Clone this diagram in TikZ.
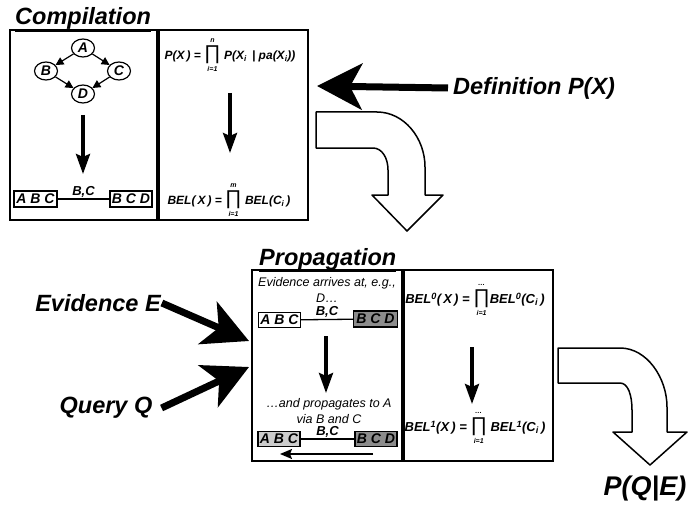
\documentclass[tikz,border=0pt]{standalone}
\usepackage{fontspec}
\setmainfont{Liberation Sans}
\usetikzlibrary{arrows.meta,shapes.geometric}

% n-ary product with small limits above and below
\newcommand{\limprod}[2]{$\mathop{\hbox{\fontsize{20}{20}\selectfont\upshape\mdseries ∏}}\limits^{\hbox{\raise2pt\hbox{\fontsize{7}{7}\selectfont #1}}}_{\hbox{\lower1.5pt\hbox{\fontsize{7}{7}\selectfont #2}}}$}
\newcommand{\sub}[1]{\textsubscript{#1}}
\newcommand{\sups}[1]{\textsuperscript{#1}}

\tikzset{
  frame/.style={draw, line width=2pt, inner sep=0pt},
  clq/.style={draw, line width=1.3pt, inner sep=0pt, minimum width=43pt, minimum height=16pt,
    font=\bfseries\itshape\fontsize{14}{14}\selectfont},
  var/.style={ellipse, draw, line width=1.2pt, inner sep=0pt, minimum width=23pt, minimum height=18pt,
    font=\bfseries\itshape\fontsize{14}{14}\selectfont},
  title/.style={font=\bfseries\itshape\fontsize{23.5}{23.5}\selectfont, inner sep=0pt},
  biglabel/.style={font=\bfseries\itshape\fontsize{23.5}{23.5}\selectfont, inner sep=0pt},
  fml/.style={font=\bfseries\itshape\fontsize{12}{14}\selectfont, inner sep=0pt},
  sep/.style={font=\bfseries\itshape\fontsize{13}{13}\selectfont, inner sep=1pt},
  note/.style={font=\itshape\fontsize{12.5}{15.5}\selectfont, inner sep=0pt, align=center},
  fatarrow/.style={line width=7pt, -{Stealth[length=45pt,width=46pt,inset=12pt]}},
  downarrow/.style={line width=3.5pt, -{Stealth[length=20pt,width=14pt,inset=3pt]}},
  backarrow/.style={line width=1.5pt, -{Stealth[length=12pt,width=10pt,inset=2pt]}},
  link/.style={line width=1.2pt, -{Triangle[length=8pt,width=8pt]}},
  joint/.style={line width=1.3pt},
  block/.style={draw, line width=1.5pt, fill=white, line join=round},
}

\begin{document}
\begin{tikzpicture}[x=1pt, y=-1pt]
\useasboundingbox (0,0) rectangle (693,508);

% ---------- compilation ----------
\node[title, anchor=base west] (comptitle) at (15,25) {\underline{Compilation}};
\node[frame, minimum width=147pt, minimum height=190pt] (cbox) at (83.5,125) {};
\node[frame, minimum width=149pt, minimum height=190pt] (fbox) at (233,125) {};

\node[var] (A) at (83,48) {A};
\node[var] (B) at (46,71) {B};
\node[var] (C) at (119,71) {C};
\node[var] (D) at (83,94) {D};
\draw[link] (A) -- (B);
\draw[link] (A) -- (C);
\draw[link] (B) -- (D);
\draw[link] (C) -- (D);

\coordinate (c1a) at (83,115);
\coordinate (c1b) at (83,174);
\draw[downarrow] (c1a) -- (c1b);

\node[clq] (abc1) at (35.5,199) {A B C};
\node[clq, minimum width=42pt] (bcd1) at (131,199) {B C D};
\draw[joint] (abc1) -- (bcd1) node[sep, midway, above=0pt] (bc1) {B,C};

\node[fml] (pdef) at (230,55) {P(X\,) = \limprod{n}{i=1} P(X\sub{i} \,| pa(X\sub{i}))};
\coordinate (c2a) at (230,93);
\coordinate (c2b) at (230,153);
\draw[downarrow] (c2a) -- (c2b);
\node[fml] (belc) at (229,200) {BEL(\,X\,) = \limprod{m}{i=1} BEL(C\sub{i}\,)};

% ---------- definition arrow ----------
\node[biglabel, anchor=west] (defn) at (453,88) {Definition P(X)};
\coordinate (deftip) at (317,86);
\draw[fatarrow] ([xshift=-5pt]defn.west) -- (deftip);

% ---------- first bent arrow ----------
\draw[block] (316,112) -- (377,112) .. controls (404,112) and (425,138) .. (425,167)
  -- (425,195) -- (443,195) -- (407,231) -- (372,195) -- (388,195) -- (388,170)
  .. controls (388,158) and (382,148) .. (373,148) -- (316,148) -- cycle;

% ---------- propagation ----------
\node[title, anchor=base west] (proptitle) at (259,265) {\underline{Propagation}};
\node[frame, minimum width=150pt, minimum height=191pt] (pbox) at (327,365.5) {};
\node[frame, minimum width=149pt, minimum height=191pt] (bbox) at (478.5,365.5) {};

\node[note] (arrive) at (327,290) {Evidence arrives at, e.g.,\\D\ldots};
\node[clq, minimum width=42pt, minimum height=15pt] (abc2) at (279.5,320) {A B C};
\node[clq, minimum width=44pt, minimum height=16pt, fill=black!45] (bcd2) at (375.5,319) {B C D};
\draw[joint] (abc2) -- (bcd2) node[sep, midway, above=0pt] (bc2) {B,C};

\coordinate (c3a) at (326,336);
\coordinate (c3b) at (326,393);
\draw[downarrow] (c3a) -- (c3b);

\node[note] (spread) at (329,411) {\ldots and propagates to A\\via B and C};
\node[clq, minimum width=42pt, minimum height=15pt, fill=black!20] (abc3) at (279,439) {A B C};
\node[clq, minimum width=42pt, minimum height=15pt, fill=black!45] (bcd3) at (376,439) {B C D};
\draw[joint] (abc3) -- (bcd3) node[sep, midway, above=0pt] (bc3) {B,C};
\coordinate (c4a) at (373,454);
\coordinate (c4b) at (280,454);
\draw[backarrow] (c4a) -- (c4b);

\node[fml, font=\bfseries\itshape\fontsize{13}{14}\selectfont] (bel0) at (475,300)
  {BEL\sups{0}(\,X\,) = \limprod{\ldots}{i=1}BEL\sups{0}(C\sub{i}\,)};
\coordinate (c5a) at (472,347);
\coordinate (c5b) at (472,404);
\draw[downarrow] (c5a) -- (c5b);
\node[fml, font=\bfseries\itshape\fontsize{13}{14}\selectfont] (bel1) at (475,428)
  {BEL\sups{1}(X\,) = \limprod{\ldots}{i=1} BEL\sups{1}(C\sub{i}\,)};

% ---------- inputs ----------
\node[biglabel] (evid) at (98,303) {Evidence E};
\coordinate (evtip) at (249,341);
\draw[fatarrow] ([xshift=1pt]evid.east) -- (evtip);

\node[biglabel] (query) at (106,408) {Query Q};
\coordinate (qtip) at (249,367);
\draw[fatarrow] ([xshift=9pt]query.east) -- (qtip);

% ---------- second bent arrow and result ----------
\draw[block] (558,348) -- (620,348) .. controls (647,348) and (667,378) .. (667,407)
  -- (667,432) -- (687,432) -- (650,465) -- (613,432) -- (632,432) -- (632,410)
  .. controls (632,395) and (628,383) .. (620,383) -- (558,383) -- cycle;
\node[biglabel, font=\bfseries\itshape\fontsize{27}{27}\selectfont] (result) at (645,489) {P(Q|E)};
\end{tikzpicture}
\end{document}
